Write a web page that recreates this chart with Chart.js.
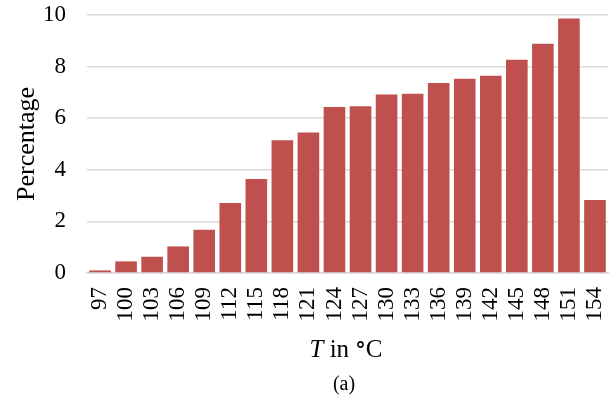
<!DOCTYPE html>
<html>
<head>
<meta charset="utf-8">
<script src="https://cdn.jsdelivr.net/npm/chart.js@4"></script>
<style>
  html, body { margin: 0; padding: 0; background: #fff; }
  #wrap { position: relative; width: 616px; height: 399px; }
  #xtitle { position: absolute; left: 0; top: 335px; width: 616px; padding-left: 76px; box-sizing: border-box; text-align: center; font-family: "Liberation Serif", "Times New Roman", serif; font-size: 25px; color: #000; line-height: 28px; }
  #xtitle .deg { font-family: "DejaVu Sans", sans-serif; font-weight: bold; font-size: 21px; }
  #caption { position: absolute; left: 0; top: 371px; width: 616px; padding-left: 72px; box-sizing: border-box; text-align: center; font-family: "Liberation Serif", "Times New Roman", serif; font-size: 20px; color: #000; line-height: 24px; }
</style>
</head>
<body>
<div id="wrap">
  <canvas id="c" width="616" height="399"></canvas>
  <div id="xtitle"><i>T</i> in <span class="deg">°</span>C</div>
  <div id="caption">(a)</div>
</div>
<script>
const categories = ["97","100","103","106","109","112","115","118","121","124","127","130","133","136","139","142","145","148","151","154"];
const percentages = [0.1,0.45,0.63,1.03,1.68,2.71,3.64,5.15,5.45,6.43,6.46,6.92,6.95,7.36,7.53,7.65,8.27,8.89,9.86,2.83];
const yTicks = [0,2,4,6,8,10];

const SERIF = "'Liberation Serif', 'Times New Roman', serif";

new Chart(document.getElementById('c'), {
  type: 'bar',
  data: {
    labels: categories,
    datasets: [{
      data: percentages,
      backgroundColor: '#c0504d',
      borderWidth: 0,
      barPercentage: 0.83,
      categoryPercentage: 1.0
    }]
  },
  options: {
    responsive: false,
    animation: false,
    layout: { padding: { top: 15, right: 8, bottom: 0, left: 8 } },
    plugins: { legend: { display: false }, tooltip: { enabled: false } },
    scales: {
      x: {
        grid: { display: false, drawTicks: false },
        border: { display: true, color: '#d9d9d9', width: 1.5 },
        afterFit: (axis) => { axis.height = 126; axis.paddingLeft = 0; axis.paddingRight = 0; },
        ticks: {
          color: '#000',
          font: { family: SERIF, size: 23 },
          maxRotation: 90, minRotation: 90,
          autoSkip: false,
          padding: 14
        }
      },
      y: {
        min: 0, max: 10,
        afterBuildTicks: (axis) => { axis.ticks = yTicks.map(v => ({ value: v })); },
        afterFit: (axis) => { axis.width = 79; axis.paddingTop = 0; axis.paddingBottom = 0; },
        grid: { color: '#d9d9d9', lineWidth: 1.5, drawTicks: false },
        border: { display: false },
        ticks: {
          color: '#000',
          font: { family: SERIF, size: 23 },
          padding: 21
        },
        title: {
          display: true,
          text: 'Percentage',
          color: '#000',
          font: { family: SERIF, size: 26 },
          padding: { top: 4, bottom: 0 }
        }
      }
    }
  }
});
</script>
</body>
</html>
